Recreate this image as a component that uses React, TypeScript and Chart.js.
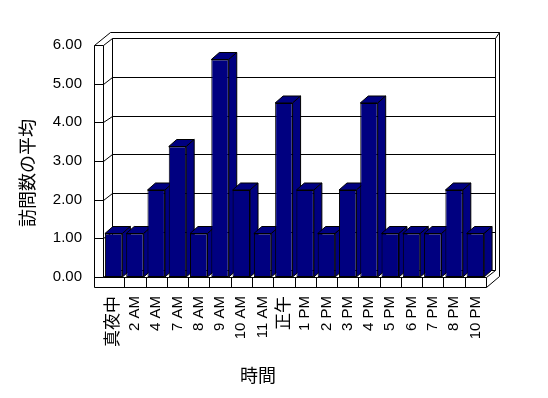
import React, { useEffect, useRef } from "react";
import { Chart, registerables } from "chart.js";

Chart.register(...registerables);

const categories = [
  "真夜中", "2 AM", "4 AM", "7 AM", "8 AM", "9 AM", "10 AM", "11 AM", "正午",
  "1 PM", "2 PM", "3 PM", "4 PM", "5 PM", "6 PM", "7 PM", "8 PM", "10 PM",
];
const averageVisits = [
  1.125, 1.125, 2.25, 3.375, 1.125, 5.625, 2.25, 1.125, 4.5,
  2.25, 1.125, 2.25, 4.5, 1.125, 1.125, 1.125, 2.25, 1.125,
];
const yTickValues = [0, 1, 2, 3, 4, 5, 6];
const yAxisTitle = "訪問数の平均";
const xAxisTitle = "時間";

const LATIN = '"Liberation Sans", Arial, "Noto Sans CJK JP", sans-serif';
const CJK = '"Noto Sans CJK JP", "Liberation Sans", sans-serif';
const BAR_COLOR = "#000080";

// 3D geometry (pixels)
const DX = 8.5, DY = -6.7; // inner back-wall depth
const BDX = 8, BDY = -7; // bar depth
const WALL = 9, FLOOR = 10;
const OUT_DXL = 15.7, OUT_DY = -13.3, OUT_DXR = 13.3;

const s = (v: number) => Math.round(v) + 0.5;

const frame3d = {
  id: "frame3d",
  beforeDatasetsDraw(chart: any) {
    const { ctx, chartArea: a, scales } = chart;
    const ys = scales.y, xs = scales.x;
    const L = a.left, R = a.right, T = a.top, B = a.bottom;
    ctx.save();
    ctx.strokeStyle = "#000";
    ctx.lineWidth = 1;
    const line = (pts: number[][]) => {
      ctx.beginPath();
      pts.forEach(([px, py], i) => (i ? ctx.lineTo(px, py) : ctx.moveTo(px, py)));
      ctx.stroke();
    };
    // gridlines / ticks
    yTickValues.forEach((v) => {
      const yy = ys.getPixelForValue(v);
      line([[s(L - WALL), s(yy)], [s(L), s(yy)], [s(L + DX), s(yy + DY)], [s(R + DX), s(yy + DY)]]);
    });
    // verticals
    line([[s(L - WALL), s(T)], [s(L - WALL), s(B + FLOOR)]]);
    line([[s(L), s(T)], [s(L), s(B)]]);
    line([[s(L + DX), s(T + DY)], [s(L + DX), s(B + DY)]]);
    line([[s(R + DX), s(T + DY)], [s(R + DX), s(B + DY)]]);
    // outer box
    line([
      [s(L - WALL), s(T)],
      [s(L - WALL + OUT_DXL), s(T + OUT_DY)],
      [s(R + OUT_DXR), s(T + OUT_DY)],
      [s(R + OUT_DXR), s(B - 1.3)],
      [s(R), s(B + FLOOR)],
    ]);
    line([[s(R + DX), s(T + DY)], [s(R + OUT_DXR), s(T + OUT_DY)]]);
    // floor
    line([[s(L - WALL), s(B + FLOOR)], [s(R), s(B + FLOOR)]]);
    line([[s(L), s(B)], [s(R), s(B)], [s(R), s(B + FLOOR)]]);
    line([[s(R), s(B)], [s(R + DX), s(B + DY)]]);
    for (let i = 1; i < categories.length; i++) {
      const xx = (xs.getPixelForValue(i - 1) + xs.getPixelForValue(i)) / 2;
      line([[s(xx), s(B)], [s(xx), s(B + FLOOR)]]);
    }
    // bar tops and sides
    const meta = chart.getDatasetMeta(0);
    meta.data.forEach((el: any) => {
      const p = el.getProps(["x", "y", "base", "width"], true);
      const left = p.x - p.width / 2, right = p.x + p.width / 2;
      const top = p.y, base = p.base;
      const poly = (pts: number[][]) => {
        ctx.beginPath();
        pts.forEach(([px, py], i) => (i ? ctx.lineTo(px, py) : ctx.moveTo(px, py)));
        ctx.closePath();
        ctx.fillStyle = BAR_COLOR;
        ctx.fill();
        ctx.stroke();
      };
      poly([[left, top], [right, top], [right + BDX, top + BDY], [left + BDX, top + BDY]]);
      poly([[right, top], [right + BDX, top + BDY], [right + BDX, base + BDY], [right, base]]);
    });
    ctx.restore();
  },
  afterDraw(chart: any) {
    const { ctx, chartArea: a } = chart;
    ctx.save();
    ctx.fillStyle = "#000";
    ctx.font = `18px ${CJK}`;
    ctx.textAlign = "center";
    ctx.textBaseline = "middle";
    ctx.fillText(xAxisTitle, a.left + 155, a.bottom + 98.5);
    ctx.translate(a.left - 76, a.top + 128);
    ctx.rotate(-Math.PI / 2);
    ctx.fillText(yAxisTitle, 0, 0);
    ctx.restore();
  },
};

export default function App() {
  const ref = useRef<HTMLCanvasElement>(null);
  useEffect(() => {
    if (!ref.current) return;
    const chart = new Chart(ref.current, {
      type: "bar",
      data: {
        labels: categories,
        datasets: [
          {
            label: yAxisTitle,
            data: averageVisits,
            backgroundColor: BAR_COLOR,
            borderColor: "#000",
            borderWidth: 1,
            borderSkipped: false,
            barPercentage: 0.82,
            categoryPercentage: 1,
          },
        ],
      },
      options: {
        responsive: false,
        animation: false,
        devicePixelRatio: 1,
        layout: { padding: { top: 45, right: 62, left: 0, bottom: 0 } },
        plugins: { legend: { display: false }, tooltip: { enabled: false }, title: { display: false } },
        scales: {
          x: {
            grid: { display: false, drawTicks: false },
            border: { display: false },
            ticks: {
              autoSkip: false,
              maxRotation: 90,
              minRotation: 90,
              padding: 19,
              color: "#000",
              font: (c: any) => ({
                family: LATIN,
                size: /[^\x00-\x7f]/.test(categories[c.index] || "") ? 17 : 15,
              }),
            },
            afterFit: (sc: any) => {
              sc.height = 121;
            },
          },
          y: {
            min: 0,
            max: 6,
            grid: { display: false, drawTicks: false },
            border: { display: false },
            ticks: {
              stepSize: 1,
              padding: 21,
              color: "#000",
              font: { family: LATIN, size: 15 },
              callback: (v: any) => Number(v).toFixed(2),
            },
            afterFit: (sc: any) => {
              sc.width = 103;
            },
          },
        },
      },
      plugins: [frame3d],
    });
    return () => chart.destroy();
  }, []);
  return (
    <div style={{ position: "absolute", left: 0, top: 0, width: 548, height: 398, background: "#fff" }}>
      <canvas ref={ref} width={548} height={398} />
    </div>
  );
}
